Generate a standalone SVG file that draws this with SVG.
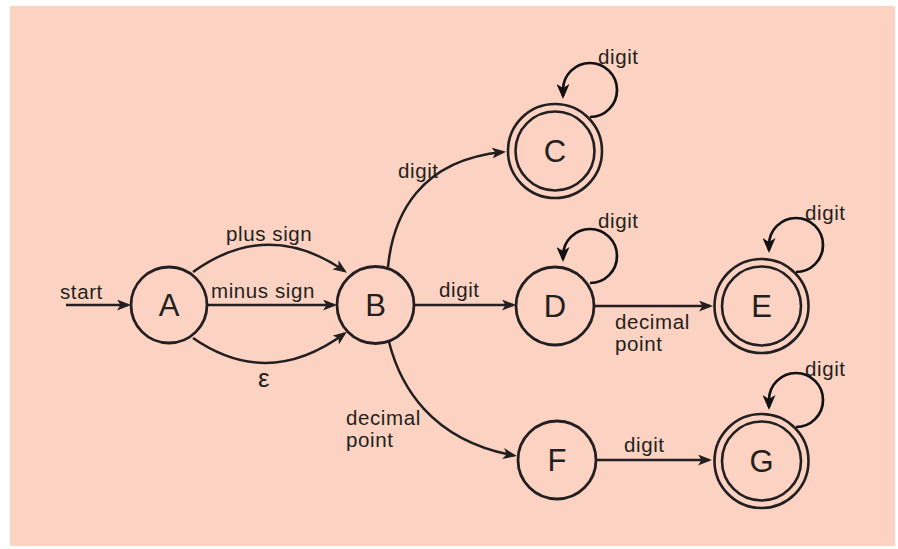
<svg xmlns="http://www.w3.org/2000/svg" width="898" height="549" viewBox="0 0 898 549">
  <style>
    .state { fill: none; stroke: #231f20; stroke-width: 2.8; }
    .ring { fill: none; stroke: #231f20; stroke-width: 2.6; }
    .edge { fill: none; stroke: #231f20; stroke-width: 2.5; marker-end: url(#arrow); }
    .loop { fill: none; stroke: #111; stroke-width: 2.7; marker-end: url(#arrow-loop); }
    .name { font-family: "Liberation Sans", Arial, sans-serif; font-size: 31px; fill: #231f20; text-anchor: middle; }
    .lbl { font-family: "Liberation Sans", Arial, sans-serif; font-size: 20.5px; letter-spacing: 0.6px; fill: #231f20; }
  </style>
  <defs>
    <marker id="arrow" markerUnits="userSpaceOnUse" viewBox="0 0 14 11" refX="11" refY="5.5" markerWidth="14" markerHeight="11" orient="auto">
      <path d="M0,0 L14,5.5 L0,11 L3.5,5.5 z" fill="#231f20"/>
    </marker>
    <marker id="arrow-loop" markerUnits="userSpaceOnUse" viewBox="0 0 15 13" refX="12" refY="6.5" markerWidth="15" markerHeight="13" orient="auto">
      <path d="M0,0 L15,6.5 L0,13 L4,6.5 z" fill="#111"/>
    </marker>
  </defs>

  <rect x="10" y="6" width="885" height="540" fill="#fcd3c2"/>

  <g id="connectors">
    <path class="edge" d="M66 305 H128"/>
    <path class="edge" d="M193 272 Q268 218 344.5 271"/>
    <path class="edge" d="M207 305 H334"/>
    <path class="edge" d="M193 338 Q268 390 344.5 333.5"/>
    <path class="edge" d="M388 267 C393 215 420 160 503 152"/>
    <path class="edge" d="M414 305 H513"/>
    <path class="edge" d="M389 342 C400 385 430 440 514 455.5"/>
    <path class="edge" d="M595 306 H710"/>
    <path class="edge" d="M597 460 H709"/>
    <path class="loop" d="M590 117 A27 27 0 1 0 563 90 L563 96"/>
    <path class="loop" d="M590 283 A27 27 0 1 0 563 256 L563 259"/>
    <path class="loop" d="M796 272 A27 27 0 1 0 769 245 L769 250"/>
    <path class="loop" d="M796 427 A27 27 0 1 0 769 400 L769 407"/>

    <text class="lbl" x="60" y="299">start</text>
    <text class="lbl" x="226" y="241">plus sign</text>
    <text class="lbl" x="211" y="298">minus sign</text>
    <text class="lbl" x="258" y="387" style="font-size:26px">ε</text>
    <text class="lbl" x="398" y="178">digit</text>
    <text class="lbl" x="439" y="297">digit</text>
    <text class="lbl" x="346" y="425">decimal</text>
    <text class="lbl" x="346" y="447">point</text>
    <text class="lbl" x="615" y="329">decimal</text>
    <text class="lbl" x="615" y="351">point</text>
    <text class="lbl" x="624" y="452">digit</text>
    <text class="lbl" x="598" y="64">digit</text>
    <text class="lbl" x="598" y="228">digit</text>
    <text class="lbl" x="805" y="220">digit</text>
    <text class="lbl" x="805" y="376">digit</text>
  </g>

  <g id="A">
    <circle class="state" cx="169" cy="305" r="38"/>
    <text class="name" x="169" y="316">A</text>
  </g>
  <g id="B">
    <circle class="state" cx="375.5" cy="305" r="38.5"/>
    <text class="name" x="375.5" y="316">B</text>
  </g>
  <g id="C">
    <circle class="ring" cx="555" cy="151" r="47"/>
    <circle class="ring" cx="555" cy="151" r="39.5"/>
    <text class="name" x="555" y="162">C</text>
  </g>
  <g id="D">
    <circle class="state" cx="555" cy="306" r="39"/>
    <text class="name" x="555" y="317">D</text>
  </g>
  <g id="E">
    <circle class="ring" cx="761.5" cy="306" r="47"/>
    <circle class="ring" cx="761.5" cy="306" r="39.5"/>
    <text class="name" x="761.5" y="317">E</text>
  </g>
  <g id="F">
    <circle class="state" cx="557" cy="460" r="39"/>
    <text class="name" x="557" y="471">F</text>
  </g>
  <g id="G">
    <circle class="ring" cx="761.5" cy="461" r="47"/>
    <circle class="ring" cx="761.5" cy="461" r="39.5"/>
    <text class="name" x="761.5" y="472">G</text>
  </g>
</svg>
